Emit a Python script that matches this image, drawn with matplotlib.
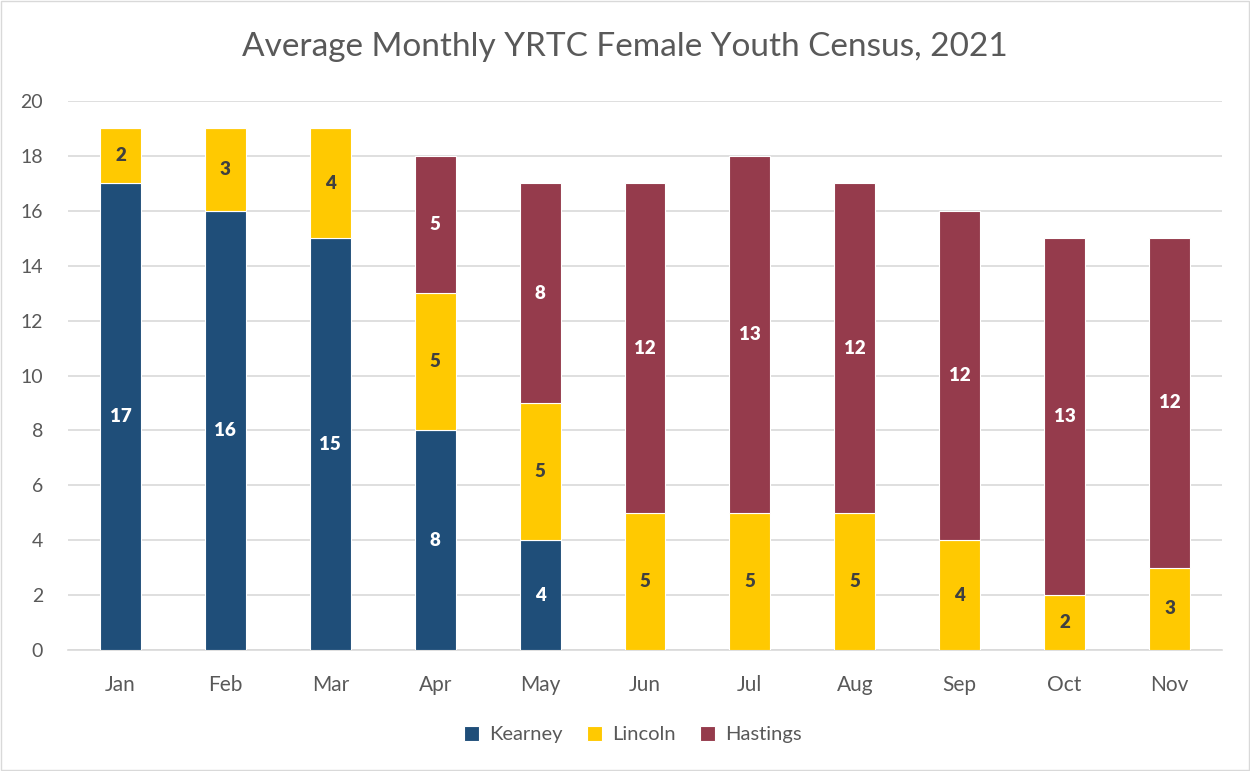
import matplotlib
matplotlib.use("Agg")
import matplotlib.pyplot as plt
import numpy as np

months = ["Jan", "Feb", "Mar", "Apr", "May", "Jun", "Jul", "Aug", "Sep", "Oct", "Nov"]
kearney = [17, 16, 15, 8, 4, 0, 0, 0, 0, 0, 0]
lincoln = [2, 3, 4, 5, 5, 5, 5, 5, 4, 2, 3]
hastings = [0, 0, 0, 5, 8, 12, 13, 12, 12, 13, 12]

plt.rcParams['font.family'] = ['Lato', 'DejaVu Sans']

fig = plt.figure(figsize=(12.5, 7.71), dpi=100)
ax = fig.add_axes([0.0544, 0.1569, 0.9232, 0.7121])

x = np.arange(len(months))
w = 0.39
c_k, c_l, c_h = "#1F4E79", "#FFC901", "#953B4C"
k = np.array(kearney); l = np.array(lincoln); h = np.array(hastings)
ax.bar(x, k, w, color=c_k, edgecolor="white", linewidth=0.8, label="Kearney", zorder=3)
ax.bar(x, l, w, bottom=k, color=c_l, edgecolor="white", linewidth=0.8, label="Lincoln", zorder=3)
ax.bar(x, h, w, bottom=k + l, color=c_h, edgecolor="white", linewidth=0.8, label="Hastings", zorder=3)

for i in range(len(months)):
    if k[i] > 0:
        ax.text(x[i], k[i] / 2, str(k[i]), ha="center", va="center", color="white",
                fontsize=13.5, fontweight="heavy", zorder=4)
    if l[i] > 0:
        ax.text(x[i], k[i] + l[i] / 2, str(l[i]), ha="center", va="center", color="#404040",
                fontsize=13.5, fontweight="heavy", zorder=4)
    if h[i] > 0:
        ax.text(x[i], k[i] + l[i] + h[i] / 2, str(h[i]), ha="center", va="center", color="white",
                fontsize=13.5, fontweight="heavy", zorder=4)

ax.set_xlim(-0.5, len(months) - 0.5)
ax.set_ylim(0, 20)
ax.set_yticks(range(0, 21, 2))
ax.set_xticks(x)
ax.set_xticklabels(months)
ax.grid(axis="y", color="#D9D9D9", linewidth=1.2, zorder=0)
for s in ["top", "right", "left"]:
    ax.spines[s].set_visible(False)
ax.spines["bottom"].set_color("#D9D9D9")
ax.spines["bottom"].set_linewidth(1.2)
ax.tick_params(axis="both", length=0, colors="#595959")
ax.tick_params(axis="x", labelsize=15, pad=18)
ax.tick_params(axis="y", labelsize=14, pad=18)

fig.text(0.5, 0.939, "Average Monthly YRTC Female Youth Census, 2021", ha="center", va="center",
         fontsize=24, color="#595959")

handles, labels = ax.get_legend_handles_labels()
fig.legend(handles, labels, loc="center", bbox_to_anchor=(0.506, 0.047), ncol=3, frameon=False,
           fontsize=14.5, labelcolor="#595959", handlelength=0.75, handleheight=0.75,
           columnspacing=1.2, handletextpad=0.5)

border = plt.Rectangle((0.001, 0.001), 0.998, 0.998, transform=fig.transFigure, fill=False,
                       edgecolor="#D9D9D9", linewidth=1)
fig.patches.append(border)

fig.savefig("out.png", dpi=100)
